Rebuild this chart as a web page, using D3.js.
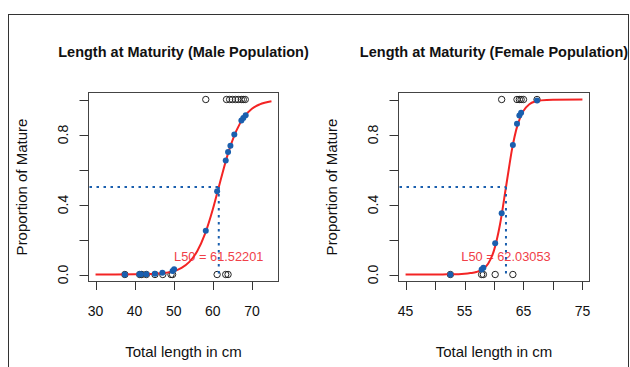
<!DOCTYPE html>
<html>
<head>
<meta charset="utf-8">
<script src="https://cdn.jsdelivr.net/npm/d3@7"></script>
<style>
  html, body { margin: 0; padding: 0; background: #fff; }
  svg { display: block; font-family: "Liberation Sans", Arial, sans-serif; }
  .tick-lab { font-size: 14px; fill: #111; }
  .ax-title { font-size: 15px; fill: #111; }
  .main { font-size: 14.5px; font-weight: bold; fill: #111; }
  .l50 { font-size: 12.8px; fill: #f04048; }
</style>
</head>
<body>
<svg id="chart" width="630" height="367" viewBox="0 0 630 367"></svg>
<script>
// ---- male population ----
var maleMatureX   = [58.2, 63.5, 64.3, 65.0, 65.8, 66.5, 67.3, 67.8, 68.3];   // observed, y = 1
var maleImmatureX = [37.5, 41.3, 41.8, 43.0, 45.2, 47.2, 49.3, 49.7, 61.1, 63.3, 63.9]; // observed, y = 0
var maleFitX = [37.5, 41.2, 41.6, 43.0, 45.2, 47.1, 49.7, 50.1, 58.2, 61.1, 63.3, 63.9, 64.5, 65.5, 67.3, 67.8, 68.4];
var maleFitP = [0.000, 0.001, 0.001, 0.002, 0.004, 0.010, 0.020, 0.030, 0.250, 0.476, 0.652, 0.700, 0.736, 0.800, 0.880, 0.895, 0.910];
var maleCurveX = [30, 35, 40, 45, 48, 50, 52, 54, 56, 58, 60, 61.52, 62, 64, 66, 68, 70, 72, 75];
var maleCurveP = [0.000, 0.000, 0.001, 0.004, 0.010, 0.019, 0.038, 0.072, 0.133, 0.232, 0.373, 0.500, 0.540, 0.699, 0.821, 0.900, 0.947, 0.972, 0.990];
var maleL50 = 61.52201;
var maleTicks = [30, 40, 50, 60, 70];
var maleTickLabels = [30, 40, 50, 60, 70];

// ---- female population ----
var femaleMatureX   = [61.3, 63.9, 64.3, 64.6, 65.0, 67.3];
var femaleImmatureX = [52.6, 57.9, 58.2, 60.2, 63.2];
var femaleFitX = [52.6, 57.9, 58.2, 60.2, 61.3, 63.2, 63.9, 64.3, 64.6, 67.3];
var femaleFitP = [0.000, 0.029, 0.038, 0.178, 0.350, 0.740, 0.862, 0.908, 0.924, 0.994];
var femaleCurveX = [45, 50, 52, 54, 55, 56, 57, 58, 59, 60, 61, 62, 62.5, 63, 64, 65, 66, 67, 68, 70, 75];
var femaleCurveP = [0.000, 0.000, 0.001, 0.002, 0.004, 0.008, 0.014, 0.028, 0.061, 0.138, 0.283, 0.493, 0.600, 0.705, 0.855, 0.935, 0.973, 0.989, 0.995, 0.999, 1.000];
var femaleL50 = 62.03053;
var femaleTicks = [45, 50, 55, 60, 65, 70, 75];
var femaleTickLabels = [45, 55, 65, 75];

var yTicks = [0, 0.2, 0.4, 0.6, 0.8, 1.0];
var yTickLabels = [0, 0.4, 0.8];

var svg = d3.select("#chart");
var blue = "#1a5fae", red = "#f32424";

// outer frame (cut off at right/bottom like the source)
svg.append("rect").attr("x", 8.5).attr("y", 14.5).attr("width", 620).attr("height", 400)
  .attr("fill", "none").attr("stroke", "#333").attr("stroke-width", 1);

function panel(o) {
  var g = svg.append("g");
  var x = d3.scaleLinear().domain(o.xdom).range([o.left, o.right]);
  var y = d3.scaleLinear().domain([-0.04, 1.04]).range([281.5, 92.5]);

  // plot box
  g.append("rect").attr("x", o.left).attr("y", 92.5)
    .attr("width", o.right - o.left).attr("height", 189)
    .attr("fill", "none").attr("stroke", "#444").attr("stroke-width", 1);

  // x axis
  g.selectAll("line.xt").data(o.ticks).join("line")
    .attr("x1", function (d) { return Math.round(x(d)) + 0.5; })
    .attr("x2", function (d) { return Math.round(x(d)) + 0.5; })
    .attr("y1", 281.5).attr("y2", 290).attr("stroke", "#333");
  g.selectAll("text.xl").data(o.tickLabels).join("text").attr("class", "tick-lab")
    .attr("x", function (d) { return x(d); }).attr("y", 316)
    .attr("text-anchor", "middle").text(function (d) { return d; });

  // y axis
  g.selectAll("line.yt").data(yTicks).join("line")
    .attr("y1", function (d) { return Math.round(y(d)) + 0.5; })
    .attr("y2", function (d) { return Math.round(y(d)) + 0.5; })
    .attr("x1", o.left - 9).attr("x2", o.left).attr("stroke", "#333");
  g.selectAll("text.yl").data(yTickLabels).join("text").attr("class", "tick-lab")
    .attr("transform", function (d) { return "translate(" + (o.left - 25) + "," + y(d) + ") rotate(-90)"; })
    .attr("text-anchor", "middle").attr("dy", "0.35em")
    .text(function (d) { return d.toFixed(1); });

  // titles
  var cx = (o.left + o.right) / 2;
  g.append("text").attr("class", "main").attr("x", cx).attr("y", 57)
    .attr("text-anchor", "middle").text(o.title);
  g.append("text").attr("class", "ax-title").attr("x", cx).attr("y", 357)
    .attr("text-anchor", "middle").text("Total length in cm");
  g.append("text").attr("class", "ax-title")
    .attr("transform", "translate(" + (o.left - 67) + ",187) rotate(-90)")
    .attr("text-anchor", "middle").attr("dy", "0.35em").text("Proportion of Mature");

  // raw observations (open circles)
  var obs = o.mature.map(function (v) { return [v, 1]; })
    .concat(o.immature.map(function (v) { return [v, 0]; }));
  g.selectAll("circle.obs").data(obs).join("circle")
    .attr("cx", function (d) { return x(d[0]); }).attr("cy", function (d) { return y(d[1]); })
    .attr("r", 3.2).attr("fill", "none").attr("stroke", "#222").attr("stroke-width", 1);

  // L50 label
  g.append("text").attr("class", "l50").attr("x", x(o.l50)).attr("y", y(0.1))
    .attr("text-anchor", "middle").attr("dy", "0.35em").text("L50 = " + o.l50);

  // fitted logistic curve
  var line = d3.line().x(function (d) { return x(d[0]); }).y(function (d) { return y(d[1]); })
    .curve(d3.curveMonotoneX);
  g.append("path").datum(d3.zip(o.curveX, o.curveP)).attr("d", line)
    .attr("fill", "none").attr("stroke", red).attr("stroke-width", 2);

  // fitted points
  g.selectAll("circle.fit").data(d3.zip(o.fitX, o.fitP)).join("circle")
    .attr("cx", function (d) { return x(d[0]); }).attr("cy", function (d) { return y(d[1]); })
    .attr("r", 3).attr("fill", blue);

  // L50 guides
  g.append("line").attr("x1", o.left + 1).attr("x2", x(o.l50))
    .attr("y1", y(0.5)).attr("y2", y(0.5))
    .attr("stroke", blue).attr("stroke-width", 2).attr("stroke-dasharray", "2.5,4.5");
  g.append("line").attr("x1", x(o.l50)).attr("x2", x(o.l50))
    .attr("y1", y(0.5)).attr("y2", y(0))
    .attr("stroke", blue).attr("stroke-width", 2).attr("stroke-dasharray", "2.5,4.5");
}

panel({
  left: 88.5, right: 278.5, xdom: [28.2, 76.8],
  ticks: maleTicks, tickLabels: maleTickLabels,
  title: "Length at Maturity (Male Population)",
  mature: maleMatureX, immature: maleImmatureX,
  fitX: maleFitX, fitP: maleFitP,
  curveX: maleCurveX, curveP: maleCurveP, l50: maleL50
});

panel({
  left: 398.5, right: 589.5, xdom: [43.8, 76.2],
  ticks: femaleTicks, tickLabels: femaleTickLabels,
  title: "Length at Maturity (Female Population)",
  mature: femaleMatureX, immature: femaleImmatureX,
  fitX: femaleFitX, fitP: femaleFitP,
  curveX: femaleCurveX, curveP: femaleCurveP, l50: femaleL50
});
</script>
</body>
</html>
